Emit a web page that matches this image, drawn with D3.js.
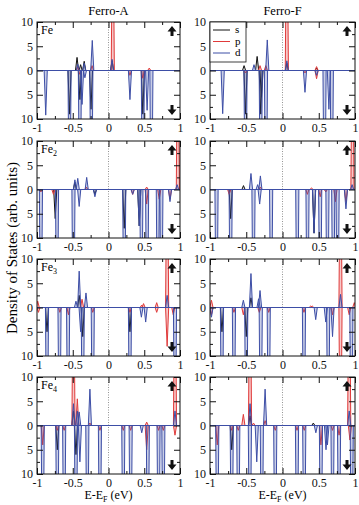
<!DOCTYPE html>
<html><head><meta charset="utf-8">
<script src="https://cdn.jsdelivr.net/npm/d3@7"></script>
<style>
body{margin:0;background:#fff;}
svg text{font-family:"Liberation Serif","DejaVu Serif",serif !important;}
</style></head>
<body><svg id="c" width="359" height="505"></svg>
<script>
// ---- data: peaks as [energy (eV), DOS (arb.)], positive = spin up, negative = spin down
const xTicks = [-1, -0.5, 0, 0.5, 1];
const xMinor = [-0.75, -0.25, 0.25, 0.75];
const yTicks = [-10, -5, 0, 5, 10];
const yMinor = [-7.5, -2.5, 2.5, 7.5];
const columns = ["Ferro-A", "Ferro-F"];
const atoms = ["Fe", "Fe2", "Fe3", "Fe4"];
const orbitals = ["s", "p", "d"];

const fe1A_s = [[-0.44,2.7],[-0.39,1.2],[-0.34,1.9],[0.05,2.0],[-0.545,-9],[-0.40,-6],[-0.245,-8],[0.48,-9]];
const fe1A_p = [[-0.43,0.8],[-0.23,1.0],[0.06,40],[0.30,-1.0],[0.48,-1.6],[0.57,0.5],[-0.40,-0.8]];
const fe1A_d = [[-0.878,-9.2],[-0.545,-40],[-0.43,1.3],[-0.40,-40],[-0.37,-7],[-0.34,1.5],[-0.33,-1.5],[-0.227,6.2],[-0.24,-40],[0.05,2.3],[0.30,-6],[0.48,-40],[0.54,-8.2],[0.60,-40]];

const fe1F_s = [[-0.53,1.0],[-0.35,2.9],[0.06,1.5],[0.47,0.5],[-0.51,-9],[-0.29,-5.5],[-0.30,-9]];
const fe1F_p = [[-0.31,1.0],[-0.23,1.0],[0.06,40],[0.47,0.8],[0.31,-0.5],[0.47,-1.7],[-0.51,-0.5]];
const fe1F_d = [[-0.825,-8.9],[-0.51,-40],[-0.393,1.2],[-0.30,-40],[-0.21,6.3],[-0.228,-40],[0.06,2.0],[0.31,-4.5],[0.47,-1.0],[0.58,-40],[0.64,-8],[0.68,-40]];

const fe2A_s = [[-0.47,1.5],[-0.745,-6],[-0.19,-1],[0.43,-7.5],[0.22,-8]];
const fe2A_p = [[-0.77,-1],[-0.31,0.5],[0.338,-1],[0.534,0.5],[0.534,-3],[0.71,-2],[0.86,-2],[0.97,40],[-0.945,-0.5]];
const fe2A_d = [[-0.945,-40],[-0.72,-40],[-0.47,2],[-0.49,-40],[-0.43,2.3],[-0.41,-3.5],[-0.305,2.5],[-0.19,-1.5],[0.22,-40],[0.338,-1],[0.43,-7.5],[0.46,-40],[0.54,-40],[0.69,-40],[0.74,-40],[0.86,-2.5],[0.96,1]];

const fe2F_s = [[-0.538,0.8],[-0.715,-6],[0.435,-9]];
const fe2F_p = [[-0.735,-1],[-0.305,0.5],[0.343,-1],[0.4,0.3],[0.52,-1.5],[0.597,-0.5],[0.73,-2.5],[0.875,-2.5],[0.965,40]];
const fe2F_d = [[-0.91,-40],[-0.715,-40],[-0.435,3.3],[-0.40,-40],[-0.343,1.0],[-0.305,2.8],[-0.315,-3],[-0.157,-40],[0.204,-40],[0.345,-40],[0.435,-9],[0.52,-40],[0.62,-40],[0.70,-40],[0.76,-40],[0.875,-4],[0.96,1]];

const fe3A_s = [[-0.86,-5],[-0.41,2.5],[-0.36,-6],[0.3,-5]];
const fe3A_p = [[-0.99,1.3],[-0.98,-1],[-0.68,-1],[-0.56,-1.5],[-0.37,1.7],[-0.22,-1],[0.30,-1],[0.464,0.5],[0.49,0.8],[0.674,1],[0.674,-1],[0.82,40],[0.82,-8],[0.906,-1.5]];
const fe3A_d = [[-0.86,-40],[-0.685,-40],[-0.565,-40],[-0.455,1.3],[-0.41,7.5],[-0.39,-5],[-0.36,-40],[-0.315,3],[-0.22,-40],[0.30,-40],[0.46,-2],[0.52,-3],[0.82,2.5],[0.93,-40]];

const fe3F_s = [[-0.835,-5],[-0.435,2],[-0.5,-6]];
const fe3F_p = [[-0.98,1.5],[-0.98,-1.5],[-0.67,-1],[-0.54,-1.5],[-0.32,-1],[-0.19,-1],[0.296,-1],[0.389,0.3],[0.41,0.3],[0.69,-1.5],[0.80,40],[0.80,-40],[0.92,-1.5],[0.99,1]];
const fe3F_d = [[-0.98,-2],[-0.835,-40],[-0.67,-40],[-0.54,1.5],[-0.50,-40],[-0.435,7],[-0.33,1.8],[-0.31,3.5],[-0.30,-40],[-0.19,-40],[0.296,-40],[0.458,-2.5],[0.597,-3],[0.63,-40],[0.69,-6],[0.80,2.7],[0.95,-40]];

const fe4A_s = [[-0.716,-5],[-0.49,3],[-0.455,-6]];
const fe4A_p = [[-0.92,-4],[-0.716,-1],[-0.62,-1],[-0.49,40],[-0.436,5.5],[-0.26,0.5],[-0.12,-1],[0.207,-1],[0.31,-1],[0.534,0.7],[0.534,-5],[0.70,-1],[0.767,-1],[0.93,40],[0.93,-2]];
const fe4A_d = [[-0.92,-40],[-0.716,-40],[-0.62,-40],[-0.49,4.5],[-0.455,-40],[-0.436,3],[-0.41,2.8],[-0.40,-7.5],[-0.26,7.5],[-0.296,-40],[-0.12,-40],[0.207,-40],[0.31,-40],[0.465,-1.5],[0.55,-40],[0.70,-40],[0.767,-40],[0.93,3]];

const fe4F_s = [[-0.70,-5],[-0.448,2],[0.425,0.5]];
const fe4F_p = [[-0.90,-4],[-0.70,-1],[-0.61,-1],[-0.54,2.3],[-0.448,40],[-0.40,0.5],[-0.24,1],[-0.1,-1],[0.2,-1],[0.30,-1],[0.53,-4],[0.69,-1],[0.78,-2],[0.92,40],[0.93,-3]];
const fe4F_d = [[-0.90,-40],[-0.70,-40],[-0.61,-40],[-0.448,4.5],[-0.45,-40],[-0.355,-7.5],[-0.285,-40],[-0.24,7.5],[-0.1,-40],[0.2,-40],[0.30,-40],[0.46,-1.5],[0.53,-40],[0.60,-5],[0.62,-4],[0.69,-40],[0.78,-40],[0.92,3],[0.955,-40]];

const panelData = [
  [[fe1A_s,fe1A_p,fe1A_d],[fe1F_s,fe1F_p,fe1F_d]],
  [[fe2A_s,fe2A_p,fe2A_d],[fe2F_s,fe2F_p,fe2F_d]],
  [[fe3A_s,fe3A_p,fe3A_d],[fe3F_s,fe3F_p,fe3F_d]],
  [[fe4A_s,fe4A_p,fe4A_d],[fe4F_s,fe4F_p,fe4F_d]]
];

// ---- layout / style
const colX = [[37,180],[210,355]];
const rowTop = [22,141,259,377];
const panelH = 97;
const colors = {s:"#111111", p:"#e03a3a", d:"#3d4ea6"};
const halfW = 0.022;
const SERIF = "Liberation Serif";

const svg = d3.select("#c");
const fmt = d => String(d);

columns.forEach((c,ci)=>{
  svg.append("text").attr("x",(colX[ci][0]+colX[ci][1])/2).attr("y",15)
    .attr("font-family",SERIF).attr("text-anchor","middle").attr("font-size",12.5).text(c);
});

panelData.forEach((row,ri)=>{
  row.forEach((series,ci)=>{
    const [x0,x1] = colX[ci];
    const top = rowTop[ri], bot = top+panelH;
    const x = d3.scaleLinear().domain([-1,1]).range([x0,x1]);
    const y = d3.scaleLinear().domain([-10,10]).range([bot,top]);
    const g = svg.append("g");
    const cid = `clip${ri}_${ci}`;
    g.append("clipPath").attr("id",cid).append("rect")
      .attr("x",x0).attr("y",top).attr("width",x1-x0).attr("height",panelH);
    const plot = g.append("g").attr("clip-path",`url(#${cid})`);

    // Fermi level
    plot.append("line").attr("x1",x(0)).attr("x2",x(0)).attr("y1",top).attr("y2",bot)
      .attr("stroke","#888").attr("stroke-width",0.9).attr("stroke-dasharray","1,1.5");

    const line = d3.line().x(d=>x(d[0])).y(d=>y(d[1]));
    orbitals.forEach((o,oi)=>{
      const pk = series[oi];
      plot.append("g").selectAll("path").data(pk).join("path")
        .attr("d", d => line([[d[0]-halfW,0],[d[0],d[1]],[d[0]+halfW,0]]))
        .attr("fill", colors[o]).attr("fill-opacity", o==="s"?0.15:0.28)
        .attr("stroke", colors[o]).attr("stroke-width",1)
        .attr("stroke-linejoin","round");
    });
    // zero line
    plot.append("line").attr("x1",x0).attr("x2",x1).attr("y1",y(0)).attr("y2",y(0))
      .attr("stroke",colors.d).attr("stroke-width",1.2);

    // axes
    const ax = (gen, tr) => {
      const a = g.append("g").attr("transform",tr).call(gen);
      a.attr("font-family",SERIF);
      a.select(".domain").remove();
      a.selectAll("text").attr("font-family",SERIF).attr("font-size",12).attr("fill","#111");
      a.selectAll("line").attr("stroke","#111");
      return a;
    };
    ax(d3.axisBottom(x).tickValues(xTicks).tickSize(-6).tickPadding(4).tickFormat(fmt), `translate(0,${bot})`);
    ax(d3.axisBottom(x).tickValues(xMinor).tickSize(-3).tickFormat(""), `translate(0,${bot})`);
    ax(d3.axisTop(x).tickValues(xTicks).tickSize(-6).tickFormat(""), `translate(0,${top})`);
    ax(d3.axisTop(x).tickValues(xMinor).tickSize(-3).tickFormat(""), `translate(0,${top})`);
    ax(d3.axisLeft(y).tickValues(yTicks).tickSize(-6).tickPadding(4).tickFormat(d=>String(Math.abs(d))), `translate(${x0},0)`);
    ax(d3.axisLeft(y).tickValues(yMinor).tickSize(-3).tickFormat(""), `translate(${x0},0)`);
    ax(d3.axisRight(y).tickValues(yTicks).tickSize(-6).tickFormat(""), `translate(${x1},0)`);
    ax(d3.axisRight(y).tickValues(yMinor).tickSize(-3).tickFormat(""), `translate(${x1},0)`);

    g.append("rect").attr("x",x0).attr("y",top).attr("width",x1-x0).attr("height",panelH)
      .attr("fill","none").attr("stroke","#111").attr("stroke-width",1);

    // spin arrows
    const cx = x1-8;
    const up = y(10)+4, dn = y(-10)-4;
    g.append("path").attr("d",`M${cx},${up} L${cx-4.5},${up+5.5} L${cx-1.5},${up+5.5} L${cx-1.5},${up+10} L${cx+1.5},${up+10} L${cx+1.5},${up+5.5} L${cx+4.5},${up+5.5} Z`).attr("fill","#111");
    g.append("path").attr("d",`M${cx},${dn} L${cx-4.5},${dn-5.5} L${cx-1.5},${dn-5.5} L${cx-1.5},${dn-10} L${cx+1.5},${dn-10} L${cx+1.5},${dn-5.5} L${cx+4.5},${dn-5.5} Z`).attr("fill","#111");

    // atom label (left column only)
    if (ci===0){
      const t = g.append("text").attr("x",x0+4).attr("y",top+12).attr("font-family",SERIF).attr("font-size",12);
      t.append("tspan").text("Fe");
      const num = atoms[ri].slice(2);
      if (num) t.append("tspan").attr("font-size",8).attr("dy",3).text(num);
    }
    // legend
    if (ri===0 && ci===1){
      const lg = g.append("g");
      lg.append("rect").attr("x",x0).attr("y",top).attr("width",36).attr("height",40)
        .attr("fill","#fff").attr("stroke","#111").attr("stroke-width",0.8);
      orbitals.forEach((o,oi)=>{
        const ly = top+8+oi*11.5;
        lg.append("line").attr("x1",x0+3).attr("x2",x0+20).attr("y1",ly).attr("y2",ly)
          .attr("stroke",colors[o]).attr("stroke-width",1);
        lg.append("text").attr("x",x0+25).attr("y",ly+3).attr("font-family",SERIF).attr("font-size",11).text(o);
      });
    }
  });
});

// axis titles
svg.append("text").attr("transform","translate(17,248) rotate(-90)").attr("font-family",SERIF)
  .attr("text-anchor","middle").attr("font-size",15).text("Density of States (arb. units)");
colX.forEach(([a,b])=>{
  const t = svg.append("text").attr("x",(a+b)/2).attr("y",499).attr("font-family",SERIF).attr("text-anchor","middle").attr("font-size",12);
  t.append("tspan").text("E-E");
  t.append("tspan").attr("font-size",8).attr("dy",3).text("F");
  t.append("tspan").attr("dy",-3).text(" (eV)");
});
</script></body></html>
